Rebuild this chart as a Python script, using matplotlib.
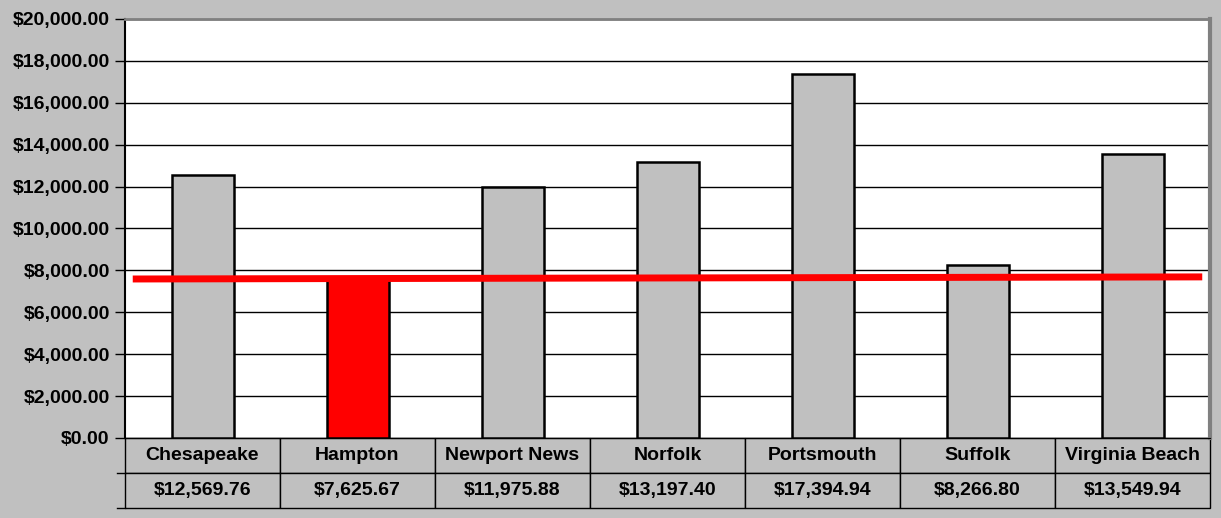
import matplotlib
matplotlib.use("Agg")
import matplotlib.pyplot as plt
from matplotlib.ticker import FuncFormatter

cities = ["Chesapeake", "Hampton", "Newport News", "Norfolk", "Portsmouth", "Suffolk", "Virginia Beach"]
values = [12569.76, 7625.67, 11975.88, 13197.40, 17394.94, 8266.80, 13549.94]
bar_colors = ["#C0C0C0", "#FF0000", "#C0C0C0", "#C0C0C0", "#C0C0C0", "#C0C0C0", "#C0C0C0"]
# red reference line, ends
ref_line = [7590, 7690]
y_ticks = list(range(0, 20001, 2000))

plt.rcParams['font.family'] = ['Liberation Sans', 'DejaVu Sans']
plt.rcParams['font.weight'] = 'bold'

W, H = 1221, 518
fig = plt.figure(figsize=(W / 100, H / 100), dpi=100, facecolor="#C0C0C0")
ax = fig.add_axes([125 / W, 1 - 438 / H, (1210 - 125) / W, (438 - 19) / H])
ax.set_facecolor("white")

x = list(range(len(cities)))
ax.bar(x, values, width=0.4, color=bar_colors, edgecolor="black", linewidth=1.8, zorder=3)
ax.plot([-0.45, len(cities) - 0.55], ref_line, color="#FF0000", linewidth=5, zorder=4,
        solid_capstyle="butt")

ax.set_xlim(-0.5, len(cities) - 0.5)
ax.set_ylim(0, 20000)
ax.set_yticks(y_ticks)
ax.yaxis.set_major_formatter(FuncFormatter(lambda v, p: f"${v:,.2f}"))
ax.tick_params(axis="y", length=7, width=1, labelsize=14, pad=4, colors="black")
ax.tick_params(axis="x", bottom=False, labelbottom=False)
for lab in ax.get_yticklabels():
    lab.set_fontweight("bold")
ax.grid(axis="y", color="black", linewidth=1, zorder=0)
ax.set_axisbelow(True)

ax.spines["left"].set_color("black")
ax.spines["left"].set_linewidth(1.5)
ax.spines["top"].set_color("#808080")
ax.spines["top"].set_linewidth(2)
ax.spines["right"].set_color("#808080")
ax.spines["right"].set_linewidth(3)
ax.spines["bottom"].set_color("black")

# data table under the chart
th = (508 - 438) / (438 - 19)
cells = [cities, [f"${v:,.2f}" for v in values]]
tbl = ax.table(cellText=cells, cellLoc="center", bbox=[0, -th, 1, th])
tbl.auto_set_font_size(False)
for (r, c), cell in tbl.get_celld().items():
    cell.set_facecolor("#C0C0C0")
    cell.set_edgecolor("black")
    cell.set_linewidth(1)
    cell.get_text().set_fontsize(14)
    cell.get_text().set_fontweight("bold")

# little ticks at the left of the table rows
for yy in (-th / 2, -th):
    ax.plot([-8 / (1210 - 125), 0], [yy, yy], transform=ax.transAxes, color="black",
            linewidth=1, clip_on=False)

fig.savefig("out.png", dpi=100, facecolor=fig.get_facecolor())
